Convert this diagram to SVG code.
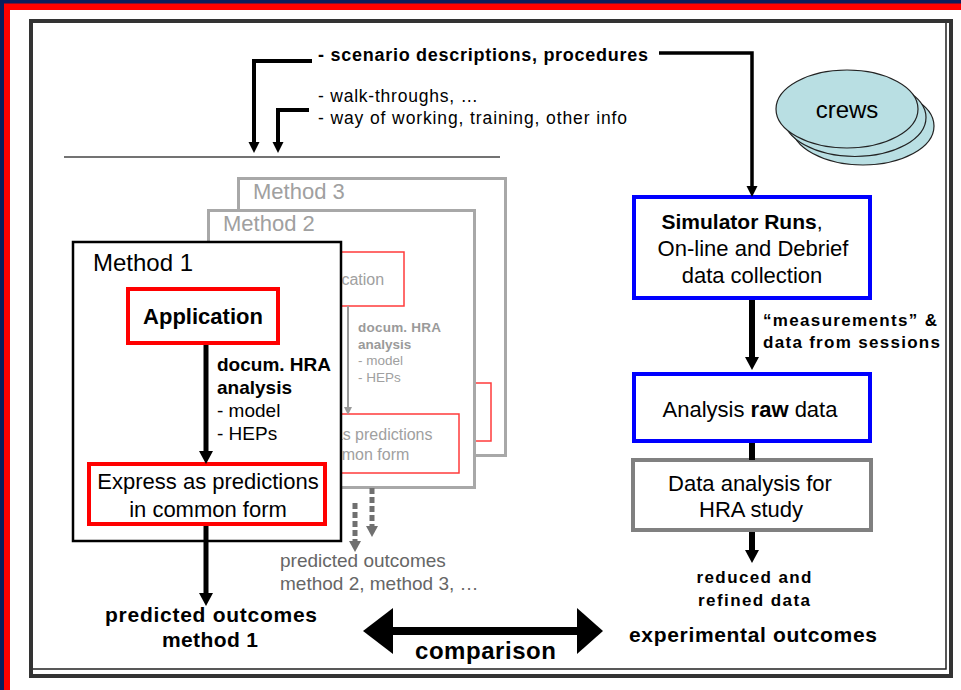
<svg xmlns="http://www.w3.org/2000/svg" width="961" height="690" viewBox="0 0 961 690">
  <defs>
    <style>
      text{font-family:"Liberation Sans",Arial,Helvetica,sans-serif;fill:#000}
      .b{font-weight:bold}
      .c{text-anchor:middle}
      .g1{fill:#a0a0a0}
      .g2{fill:#9a9a9a}
      .g3{fill:#666}
      .frame{fill:#fff;stroke:#a8a8a8;stroke-width:3}
      .red{fill:#fff;stroke:#ff0000;stroke-width:4}
      .redthin{fill:#fff;stroke:#ff3b3b;stroke-width:1.5}
      .blue{fill:#fff;stroke:#0000ff;stroke-width:4}
      .grey{fill:#fff;stroke:#808080;stroke-width:4}
      .k{fill:none;stroke:#000}
      .crew{fill:#b9dfe3;stroke:#222;stroke-width:1.2}
    </style>
    <marker id="ah" markerUnits="userSpaceOnUse" markerWidth="14" markerHeight="14" refX="0" refY="0" orient="auto" style="overflow:visible">
      <path d="M0,-7 L13,0 L0,7 z" fill="#000"/>
    </marker>
    <marker id="ahs" markerUnits="userSpaceOnUse" markerWidth="12" markerHeight="12" refX="0" refY="0" orient="auto" style="overflow:visible">
      <path d="M0,-5.5 L11,0 L0,5.5 z" fill="#000"/>
    </marker>
    <marker id="ahg" markerUnits="userSpaceOnUse" markerWidth="9" markerHeight="9" refX="0" refY="0" orient="auto" style="overflow:visible">
      <path d="M0,-4 L8,0 L0,4 z" fill="#9a9a9a"/>
    </marker>
    <marker id="ahd" markerUnits="userSpaceOnUse" markerWidth="12" markerHeight="12" refX="0" refY="0" orient="auto" style="overflow:visible">
      <path d="M0,-6 L11,0 L0,6 z" fill="#707070"/>
    </marker>
  </defs>

  <!-- slide background and coloured edges -->
  <rect width="961" height="690" fill="#fff"/>
  <rect x="0" y="0" width="961" height="10" fill="#ff0000"/>
  <rect x="0" y="0" width="10" height="690" fill="#ff0000"/>
  <rect x="0" y="0" width="961" height="3.5" fill="#0b1d5c"/>
  <rect x="0" y="0" width="4" height="690" fill="#0b1d5c"/>

  <!-- outer frame -->
  <rect x="31" y="21" width="920" height="655" fill="none" stroke="#333" stroke-width="4"/>
  <path d="M33,669 H946 V23" fill="none" stroke="#222" stroke-width="1.5"/>

  <!-- separator line -->
  <line x1="64" y1="157" x2="500" y2="157" stroke="#444" stroke-width="1.5"/>

  <!-- inputs -->
  <g id="inputs">
    <text x="318" y="61" class="b" font-size="18" textLength="330" lengthAdjust="spacing">- scenario descriptions, procedures</text>
    <text x="318" y="102" font-size="17.5" textLength="160" lengthAdjust="spacing">- walk-throughs, …</text>
    <text x="318" y="124" font-size="17.5" textLength="309" lengthAdjust="spacing">- way of working, training, other info</text>
  </g>

  <!-- crews -->
  <g id="crews">
    <ellipse class="crew" cx="863" cy="126" rx="71" ry="39"/>
    <ellipse class="crew" cx="855" cy="117.5" rx="71" ry="39"/>
    <ellipse class="crew" cx="847" cy="109" rx="71" ry="39"/>
    <text x="847" y="118" class="c" font-size="24">crews</text>
  </g>

  <!-- method 3 (back) -->
  <g id="method3">
    <rect class="frame" x="238.5" y="178.5" width="267" height="277"/>
    <rect class="redthin" x="276" y="383" width="215" height="58"/>
    <text x="253" y="199" class="g1" font-size="22">Method 3</text>
  </g>

  <!-- method 2 (middle) -->
  <g id="method2">
    <rect class="frame" x="208.5" y="210.5" width="266" height="277"/>
    <text x="223" y="231" class="g1" font-size="22">Method 2</text>
    <rect class="redthin" x="290" y="252" width="114" height="54"/>
    <text x="345" y="285" class="c g1" font-size="16">Application</text>
    <text x="358" y="332" class="b g2" font-size="13.5" textLength="83" lengthAdjust="spacing">docum. HRA</text>
    <text x="358" y="349" class="b g2" font-size="13.5">analysis</text>
    <text x="358" y="365" class="g1" font-size="13.5">- model</text>
    <text x="358" y="382" class="g1" font-size="13.5">- HEPs</text>
    <rect class="redthin" x="245" y="414" width="214" height="59"/>
    <text x="352" y="440" class="c g1" font-size="16">Express as predictions</text>
    <text x="352" y="460" class="c g1" font-size="16">in common form</text>
  </g>

  <!-- method 1 (front) -->
  <g id="method1">
    <rect x="73" y="242" width="268" height="299" fill="#fff" stroke="#000" stroke-width="2.5"/>
    <text x="93" y="271" font-size="24">Method 1</text>
    <g id="application">
      <rect class="red" x="128" y="289" width="150" height="54"/>
      <text x="203" y="324" class="b c" font-size="22">Application</text>
    </g>
    <text x="217" y="371" class="b" font-size="19">docum. HRA</text>
    <text x="217" y="394" class="b" font-size="19">analysis</text>
    <text x="217" y="417" font-size="19">- model</text>
    <text x="217" y="440" font-size="19">- HEPs</text>
    <g id="express">
      <rect class="red" x="89" y="464" width="236" height="60"/>
      <text x="208" y="489" class="c" font-size="22">Express as predictions</text>
      <text x="208" y="517" class="c" font-size="22">in common form</text>
    </g>
  </g>

  <!-- predicted outcomes -->
  <g id="predicted1">
    <text x="211" y="622" class="b c" font-size="21" textLength="212" lengthAdjust="spacing">predicted outcomes</text>
    <text x="210" y="647" class="b c" font-size="21" textLength="96" lengthAdjust="spacing">method 1</text>
  </g>
  <g id="predicted23">
    <text x="280" y="567" class="g3" font-size="19">predicted outcomes</text>
    <text x="280" y="590" class="g3" font-size="19">method 2, method 3, …</text>
  </g>

  <!-- experimental side -->
  <g id="simulator">
    <rect class="blue" x="634" y="197" width="236" height="101"/>
    <text x="742" y="229" class="c" font-size="21"><tspan class="b">Simulator Runs</tspan>,</text>
    <text x="753" y="256" class="c" font-size="22">On-line and Debrief</text>
    <text x="752" y="283" class="c" font-size="22">data collection</text>
  </g>
  <g id="measurements">
    <text x="763" y="326" class="b" font-size="17" textLength="174" lengthAdjust="spacing">“measurements” &amp;</text>
    <text x="763" y="348" class="b" font-size="17" textLength="177" lengthAdjust="spacing">data from sessions</text>
  </g>
  <g id="analysis">
    <rect class="blue" x="634" y="374" width="236" height="67"/>
    <text x="750" y="417" class="c" font-size="22">Analysis <tspan class="b">raw</tspan> data</text>
  </g>
  <g id="dataanalysis">
    <rect class="grey" x="633" y="460" width="238" height="70"/>
    <text x="750" y="491" class="c" font-size="22">Data analysis for</text>
    <text x="751" y="517" class="c" font-size="22">HRA study</text>
  </g>
  <g id="reduced">
    <text x="754" y="583" class="b c" font-size="17" textLength="115" lengthAdjust="spacing">reduced and</text>
    <text x="754" y="606" class="b c" font-size="17" textLength="112" lengthAdjust="spacing">refined data</text>
  </g>
  <g id="experimental">
    <text x="753" y="642" class="b c" font-size="21" textLength="248" lengthAdjust="spacing">experimental outcomes</text>
  </g>
  <g id="comparison">
    <text x="485.5" y="659" class="b c" font-size="24" textLength="141" lengthAdjust="spacing">comparison</text>
  </g>

  <!-- connectors -->
  <g id="connectors">
    <path class="k" stroke-width="4" d="M312,61 H254 V142" marker-end="url(#ahs)"/>
    <path class="k" stroke-width="4" d="M309,110 H278 V142" marker-end="url(#ahs)"/>
    <path class="k" stroke-width="3.5" d="M659,53 H752 V186" marker-end="url(#ahs)"/>
    <path class="k" stroke-width="6" d="M752,300 V357" marker-end="url(#ah)"/>
    <path class="k" stroke-width="6" d="M752,443 V460"/>
    <path class="k" stroke-width="6" d="M752,532 V550" marker-end="url(#ah)"/>
    <path class="k" stroke-width="5" d="M206,345 V451" marker-end="url(#ah)"/>
    <path class="k" stroke-width="5" d="M206,526 V593" marker-end="url(#ah)"/>
    <path d="M348,306 V407" fill="none" stroke="#9a9a9a" stroke-width="2" marker-end="url(#ahg)"/>
    <path d="M372,488 V526" fill="none" stroke="#707070" stroke-width="5" stroke-dasharray="6 3" marker-end="url(#ahd)"/>
    <path d="M355,503 V541" fill="none" stroke="#707070" stroke-width="5" stroke-dasharray="6 3" marker-end="url(#ahd)"/>
    <line x1="390" y1="631" x2="579" y2="631" stroke="#000" stroke-width="8"/>
    <polygon points="363,631 393,608 393,654" fill="#000"/>
    <polygon points="603,631 577,608 577,654" fill="#000"/>
  </g>
</svg>
